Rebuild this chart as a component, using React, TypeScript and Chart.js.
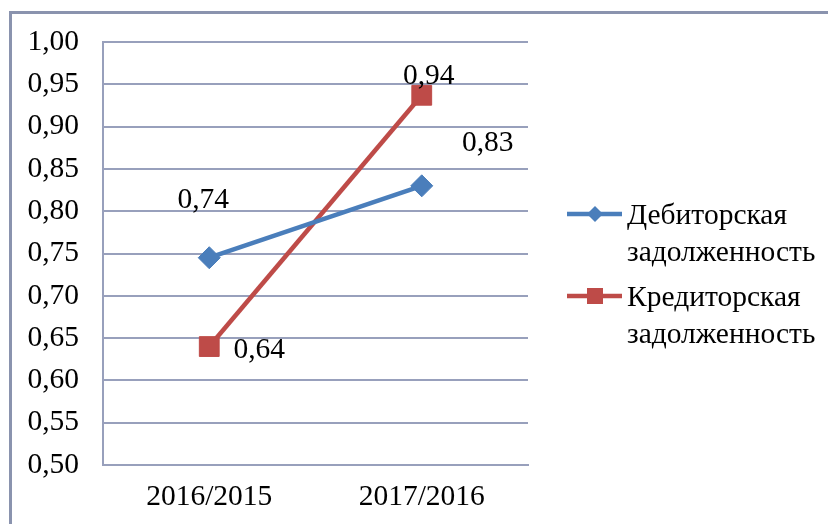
import React, { useEffect, useRef } from "react";
import { Chart, registerables } from "chart.js";

Chart.register(...registerables);

const categories = ["2016/2015", "2017/2016"];
const seriesNames = [
  ["Дебиторская", "задолженность"],
  ["Кредиторская", "задолженность"],
];
const debtorValues = [0.745, 0.83];
const creditorValues = [0.64, 0.937];
const debtorLabels = ["0,74", "0,83"];
const creditorLabels = ["0,64", "0,94"];
const yMin = 0.5;
const yMax = 1.0;
const yStep = 0.05;

const FONT = '"Liberation Serif", "Times New Roman", serif';
const FS = 29.5;
const BLUE = "#4a7ebb";
const RED = "#be4b48";
const GRID = "#98a0bc";

// offsets of each value label relative to its point (pixels)
const labelOffsets = [
  [
    [-6, -57],
    [66, -43],
  ],
  [
    [50, 4],
    [7, -19],
  ],
];

const framePlugin = {
  id: "frame",
  beforeDraw(chart: any) {
    const { ctx, width, height } = chart;
    ctx.save();
    ctx.fillStyle = "#ffffff";
    ctx.fillRect(0, 0, width, height);
    ctx.strokeStyle = "#8a93ae";
    ctx.lineWidth = 3;
    ctx.strokeRect(10.5, 12.5, width + 20, height + 20);
    ctx.restore();
  },
};

const valueLabelPlugin = {
  id: "valueLabels",
  afterDatasetsDraw(chart: any) {
    const { ctx } = chart;
    const allLabels = [debtorLabels, creditorLabels];
    ctx.save();
    ctx.font = `${FS}px ${FONT}`;
    ctx.fillStyle = "#000000";
    ctx.textAlign = "center";
    ctx.textBaseline = "middle";
    chart.data.datasets.forEach((_: any, di: number) => {
      const meta = chart.getDatasetMeta(di);
      meta.data.forEach((pt: any, i: number) => {
        const off = labelOffsets[di][i];
        ctx.fillText(allLabels[di][i], pt.x + off[0], pt.y + off[1]);
      });
    });
    ctx.restore();
  },
};

const legendPlugin = {
  id: "customLegend",
  afterDraw(chart: any) {
    const { ctx } = chart;
    const items = [
      { color: BLUE, style: "diamond", y: 214, lines: seriesNames[0] },
      { color: RED, style: "square", y: 296, lines: seriesNames[1] },
    ];
    ctx.save();
    items.forEach((it) => {
      ctx.strokeStyle = it.color;
      ctx.lineWidth = 4.5;
      ctx.beginPath();
      ctx.moveTo(567, it.y);
      ctx.lineTo(622, it.y);
      ctx.stroke();
      ctx.fillStyle = it.color;
      const cx = 595;
      if (it.style === "diamond") {
        ctx.beginPath();
        ctx.moveTo(cx, it.y - 8);
        ctx.lineTo(cx + 8, it.y);
        ctx.lineTo(cx, it.y + 8);
        ctx.lineTo(cx - 8, it.y);
        ctx.closePath();
        ctx.fill();
      } else {
        ctx.fillRect(cx - 8, it.y - 8, 16, 16);
      }
      ctx.fillStyle = "#000000";
      ctx.font = `${FS}px ${FONT}`;
      ctx.textAlign = "left";
      ctx.textBaseline = "middle";
      it.lines.forEach((line, li) => {
        ctx.fillText(line, 627, it.y + 2 + li * 37);
      });
    });
    ctx.restore();
  },
};

export default function App() {
  const ref = useRef<HTMLCanvasElement | null>(null);

  useEffect(() => {
    document.body.style.margin = "0";
    const canvas = ref.current;
    if (!canvas) return;
    const chart = new Chart(canvas, {
      type: "line",
      data: {
        labels: categories,
        datasets: [
          {
            label: seriesNames[0].join(" "),
            data: debtorValues,
            borderColor: BLUE,
            backgroundColor: BLUE,
            borderWidth: 4.5,
            pointStyle: "rectRot",
            pointRadius: 11,
            pointBorderWidth: 1,
            pointBackgroundColor: BLUE,
            pointBorderColor: BLUE,
            clip: false as any,
          },
          {
            label: seriesNames[1].join(" "),
            data: creditorValues,
            borderColor: RED,
            backgroundColor: RED,
            borderWidth: 4.5,
            pointStyle: "rect",
            pointRadius: 14,
            pointBorderWidth: 1,
            pointBackgroundColor: RED,
            pointBorderColor: RED,
            clip: false as any,
          },
        ],
      },
      options: {
        responsive: false,
        animation: false,
        devicePixelRatio: 1,
        layout: { padding: { left: 0, top: 42, right: 300, bottom: 0 } },
        plugins: {
          legend: { display: false },
          tooltip: { enabled: false },
        },
        scales: {
          x: {
            offset: true,
            grid: { display: false, drawTicks: false },
            border: { display: true, color: GRID, width: 2 },
            ticks: {
              color: "#000000",
              font: { family: FONT, size: FS },
              padding: 15,
            },
            afterFit(scale: any) {
              scale.height = 59;
            },
          },
          y: {
            min: yMin,
            max: yMax,
            grid: { color: GRID, lineWidth: 2, drawTicks: false },
            border: { display: true, color: GRID, width: 2 },
            ticks: {
              stepSize: yStep,
              color: "#000000",
              font: { family: FONT, size: FS },
              padding: 24,
              callback: (v: any) => Number(v).toFixed(2).replace(".", ","),
            },
            afterFit(scale: any) {
              scale.width = 103;
            },
          },
        },
      },
      plugins: [framePlugin, valueLabelPlugin, legendPlugin],
    });
    return () => chart.destroy();
  }, []);

  return (
    <div style={{ width: 828, height: 524 }}>
      <canvas ref={ref} width={828} height={524} />
    </div>
  );
}
